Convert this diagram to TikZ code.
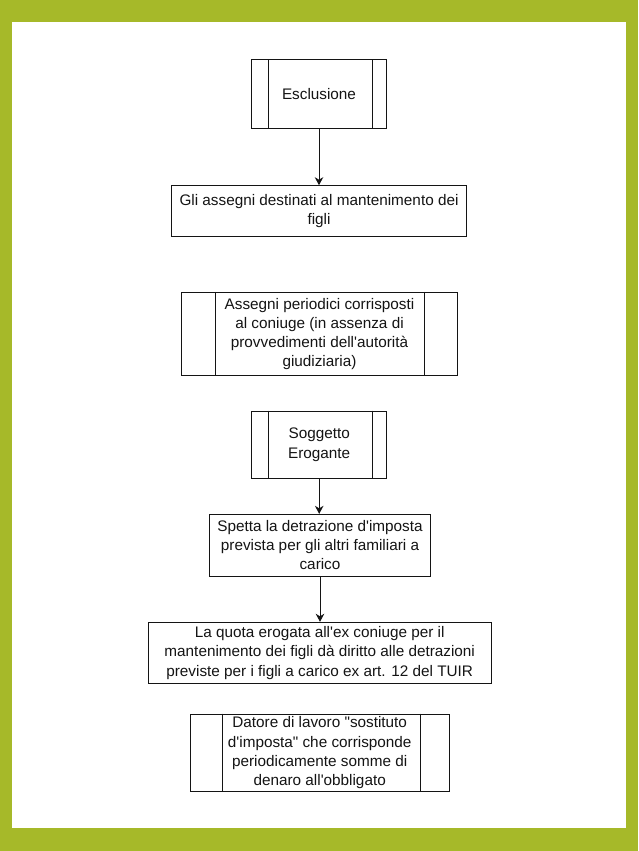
\documentclass[tikz,border=0pt]{standalone}
\usepackage{fontspec}
\setmainfont{Liberation Sans}[Ligatures=TeXOff]
\usetikzlibrary{arrows.meta}
\definecolor{frameg}{RGB}{166,185,41}
\definecolor{ink}{RGB}{20,20,20}
\begin{document}
\begin{tikzpicture}[x=1pt,y=-1pt,
  box/.style={draw=ink,line width=1pt,inner sep=0pt,align=center,
    font=\fontsize{15.3}{19.3}\selectfont,text=ink},
  conn/.style={draw=ink,line width=1pt,-{Stealth[length=8pt,width=8.5pt,inset=2.5pt]}},
  bar/.style={draw=ink,line width=1pt}]
\useasboundingbox (0,0) rectangle (638,851);
\fill[frameg] (0,0) rectangle (638,851);
\fill[white] (12,22.5) rectangle (626,828);

\node[box,minimum width=135pt,minimum height=68pt] (n1) at (319,94) {Esclusione};
\node[box,minimum width=295pt,minimum height=51pt] (n2) at (319,211.2)
  {Gli assegni destinati al mantenimento dei\\figli};
\node[box,minimum width=275.6pt,minimum height=83.4pt] (n3) at (319.5,334)
  {Assegni periodici corrisposti\\al coniuge (in assenza di\\provvedimenti dell'autorità\\giudiziaria)};
\node[box,minimum width=135pt,minimum height=67.3pt] (n4) at (319.2,444.7)
  {Soggetto\\Erogante};
\node[box,minimum width=221.4pt,minimum height=61.7pt] (n5) at (320,545.2)
  {Spetta la detrazione d'imposta\\prevista per gli altri familiari a\\carico};
\node[box,minimum width=342.7pt,minimum height=61pt] (n6) at (319.7,652.8)
  {La quota erogata all'ex coniuge per il\\mantenimento dei figli dà diritto alle detrazioni\\previste per i figli a carico ex art. 12 del TUIR};
\node[box,minimum width=259.3pt,minimum height=77.7pt] (n7) at (319.7,752.9)
  {Datore di lavoro "sostituto\\d'imposta" che corrisponde\\periodicamente somme di\\denaro all'obbligato};

% inner bars of the process boxes
\draw[bar] ([xshift=17pt]n1.north west) -- ([xshift=17pt]n1.south west);
\draw[bar] ([xshift=-14.5pt]n1.north east) -- ([xshift=-14.5pt]n1.south east);
\draw[bar] ([xshift=34.3pt]n3.north west) -- ([xshift=34.3pt]n3.south west);
\draw[bar] ([xshift=-33.3pt]n3.north east) -- ([xshift=-33.3pt]n3.south east);
\draw[bar] ([xshift=17.3pt]n4.north west) -- ([xshift=17.3pt]n4.south west);
\draw[bar] ([xshift=-14.4pt]n4.north east) -- ([xshift=-14.4pt]n4.south east);
\draw[bar] ([xshift=32.7pt]n7.north west) -- ([xshift=32.7pt]n7.south west);
\draw[bar] ([xshift=-29.3pt]n7.north east) -- ([xshift=-29.3pt]n7.south east);

% connectors
\draw[conn] (n1.south) -- (n2.north);
\draw[conn] (n4.south) -- (n4.south |- n5.north);
\draw[conn] (n5.south) -- (n5.south |- n6.north);
\end{tikzpicture}
\end{document}
